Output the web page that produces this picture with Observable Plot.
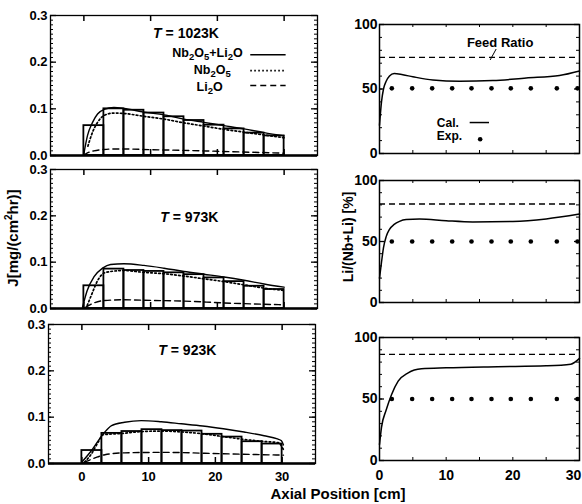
<!DOCTYPE html>
<html><head><meta charset="utf-8">
<script src="https://cdn.jsdelivr.net/npm/d3@7"></script>
<script src="https://cdn.jsdelivr.net/npm/@observablehq/plot@0.6"></script>
<style>
html,body{margin:0;padding:0;background:#fff;}
#chart{position:relative;width:582px;height:504px;overflow:hidden;background:#fff;font-family:"Liberation Sans",Arial,Helvetica,sans-serif;font-weight:bold;color:#000;}
#chart svg{position:absolute;}
.lbl{position:absolute;white-space:nowrap;transform:translate(-50%,-50%);line-height:1;}
.rot{transform:translate(-50%,-50%) rotate(-90deg);}
</style></head>
<body><div id="chart"></div>
<script>
// ---------------- DATA ----------------
// experimental flux bars (histogram, 3 cm bins along axial position)
const binEdges = [0, 3, 6, 9, 12, 15, 18, 21, 24, 27, 30];
const jExp1023 = [0.064, 0.100, 0.097, 0.091, 0.083, 0.075, 0.065, 0.057, 0.048, 0.042];
const jExp973  = [0.049, 0.085, 0.082, 0.080, 0.077, 0.073, 0.066, 0.058, 0.048, 0.041];
const jExp923  = [0.028, 0.065, 0.069, 0.073, 0.071, 0.070, 0.063, 0.057, 0.047, 0.042];

// calculated flux curves, T = 1023K
const tot1023X = [0, 0.55, 1.3, 2.05, 3.05, 4.5, 6, 9, 12, 15, 18, 21, 24, 27, 30];
const tot1023  = [0.004, 0.043, 0.071, 0.089, 0.099, 0.103, 0.101, 0.093, 0.087, 0.078, 0.071, 0.064, 0.057, 0.049, 0.042];
const nb1023X  = [0.6, 1.3, 2.05, 3.05, 4.5, 6, 9, 12, 15, 18, 21, 24, 27, 30];
const nb1023   = [0.02, 0.05, 0.071, 0.086, 0.091, 0.090, 0.084, 0.078, 0.070, 0.063, 0.056, 0.050, 0.044, 0.038];
const li1023X  = [0, 0.6, 1.5, 3, 4.5, 6, 10, 15, 20, 25, 30];
const li1023   = [0.001, 0.006, 0.010, 0.013, 0.014, 0.014, 0.0125, 0.011, 0.009, 0.007, 0.005];

// T = 973K
const tot973X = [-0.2, 0.5, 1.5, 2.8, 4, 6, 9, 12, 15, 18, 21, 24, 27, 30];
const tot973  = [0.003, 0.039, 0.068, 0.087, 0.095, 0.0965, 0.093, 0.087, 0.080, 0.074, 0.068, 0.061, 0.053, 0.046];
const nb973X  = [0.5, 1.3, 2.05, 3.3, 6, 9, 12, 15, 18, 21, 24, 27, 30];
const nb973   = [0.0065, 0.035, 0.060, 0.078, 0.082, 0.078, 0.075, 0.070, 0.064, 0.058, 0.051, 0.044, 0.039];
const li973X  = [0.3, 1.5, 3, 6, 10, 15, 21, 25, 30];
const li973   = [0.003, 0.012, 0.017, 0.0188, 0.0175, 0.0160, 0.012, 0.010, 0.008];

// T = 923K
const tot923X = [0, 1.45, 3.2, 4.45, 6.4, 8.9, 11.9, 14.9, 18.1, 21.2, 24.3, 27.3, 29.3, 29.9, 30.2];
const tot923  = [0.003, 0.028, 0.064, 0.082, 0.089, 0.0925, 0.090, 0.0857, 0.081, 0.075, 0.068, 0.060, 0.053, 0.049, 0.040];
const nb923X  = [0.4, 1.4, 2.4, 3.2, 6.05, 9.05, 12.05, 15.05, 18.2, 21.2, 24.3, 27.3, 29.4, 30.2];
const nb923   = [0.003, 0.02, 0.045, 0.062, 0.065, 0.069, 0.070, 0.068, 0.064, 0.058, 0.052, 0.0475, 0.045, 0.030];
const li923X  = [0.4, 1.95, 3.45, 6.4, 12, 21.2, 30.2];
const li923   = [0.003, 0.012, 0.019, 0.023, 0.024, 0.021, 0.018];

// Li/(Nb+Li) [%]
const cal1023X = [0, 0.3, 0.6, 1, 1.5, 2.2, 3.5, 5, 8, 12, 17, 22, 27, 30];
const cal1023  = [22, 40, 50, 56, 60, 62, 61, 59.5, 57, 56, 56.5, 58.5, 60.5, 64];
const cal973X  = [0, 0.3, 0.6, 1, 1.5, 2.2, 3, 4, 6, 10, 14, 20, 25, 30];
const cal973   = [20, 33, 45, 54, 60, 64, 66.5, 68, 68.5, 67, 66, 66.4, 68.5, 72.5];
const cal923X  = [0, 0.3, 1, 1.8, 2.8, 4.3, 6.3, 10, 17.7, 25, 28.7, 30];
const cal923   = [13, 27, 41, 53.5, 64.5, 71.3, 74.6, 75.4, 76.3, 77, 78.3, 83];
const feedRatio = {1023: 74.5, 973: 80.7, 923: 86.3};
const expX = [1.85, 4.9, 7.9, 10.9, 13.8, 16.8, 19.7, 22.7, 26.6, 29.7];
const exp1023 = [50.5, 50.5, 50.5, 50.5, 50.5, 50.5, 50.5, 50.5, 50.5, 50.5];
const exp973  = [50, 50, 50, 50, 50, 50, 50, 50, 50, 50];
const exp923  = [50, 50, 50, 50, 50, 50, 50, 50, 50, 50];

// ticks / labels
const jTicks = [0, 0.1, 0.2, 0.3];
const jMinor = d3.range(0, 31).map(i => i / 100);
const axialTicks = [0, 10, 20, 30];
const axialMinor = [0, 5, 10, 15, 20, 25, 30];
const pctTicks = [0, 50, 100];
const pctMinor = [0, 10, 20, 30, 40, 50, 60, 70, 80, 90, 100];
const legendLabels = ["Nb2O5+Li2O", "Nb2O5", "Li2O"];

// ---------------- HELPERS ----------------
const series = (xs, vs) => xs.map((x, i) => ({x, v: vs[i]}));
const bars = vals => vals.map((v, i) => ({x1: binEdges[i], x2: binEdges[i + 1], v}));
const FONT = "'Liberation Sans', Arial, Helvetica, sans-serif";
const baseStyle = {background: "transparent", fontFamily: FONT, fontWeight: "bold", fontSize: "14px", color: "#000", overflow: "visible"};
const leftStyle = {...baseStyle, fontSize: "13px"};
const chart = document.getElementById("chart");
function place(el, left, top) { el.style.left = left + "px"; el.style.top = top + "px"; chart.appendChild(el); }
const NS = "http://www.w3.org/2000/svg";
function richText(svg) {
  svg.querySelectorAll("text").forEach(el => {
    const t = el.textContent;
    if (/^(Nb|Li)\d/.test(t)) {
      el.textContent = "";
      let sub = false;
      for (const part of t.split(/(\d)/)) {
        if (!part) continue;
        const isSub = /^\d$/.test(part);
        const ts = document.createElementNS(NS, "tspan");
        ts.textContent = part;
        if (isSub !== sub) { ts.setAttribute("dy", isSub ? "3" : "-3"); sub = isSub; }
        if (isSub) ts.setAttribute("font-size", "9.5");
        el.appendChild(ts);
      }
    } else if (/^T = /.test(t)) {
      el.textContent = "";
      const a = document.createElementNS(NS, "tspan");
      a.textContent = "T"; a.setAttribute("font-style", "italic");
      const b = document.createElementNS(NS, "tspan");
      b.textContent = t.slice(1);
      el.appendChild(a); el.appendChild(b);
    }
  });
}

function leftPanel(o) {
  const W = 267;
  const marks = [
    Plot.rect(bars(o.exp), {x1: "x1", x2: "x2", y1: 0, y2: "v", fill: "none", stroke: "#000", strokeWidth: 1.8}),
    Plot.line(series(o.totX, o.tot), {x: "x", y: "v", curve: "monotone-x", stroke: "#000", strokeWidth: 1.4}),
    Plot.line(series(o.nbX, o.nb), {x: "x", y: "v", curve: "monotone-x", stroke: "#000", strokeWidth: 1.7, strokeDasharray: "1.6,2.4"}),
    Plot.line(series(o.liX, o.li), {x: "x", y: "v", curve: "monotone-x", stroke: "#000", strokeWidth: 1.4, strokeDasharray: "6,4"}),
    Plot.frame({stroke: "#000", strokeWidth: 1.3}),
    Plot.ruleY([0], {stroke: "#000", strokeWidth: 2.4}),
    Plot.tickY(jMinor, {insetRight: W - 3, strokeWidth: 1}),
    Plot.tickY(jMinor, {insetLeft: W - 3, strokeWidth: 1}),
    Plot.tickY(jTicks, {insetRight: W - 6, strokeWidth: 1.3}),
    Plot.tickY(jTicks, {insetLeft: W - 6, strokeWidth: 1.3}),
    Plot.tickX(axialTicks, {insetBottom: o.H - 6, strokeWidth: 1.5}),
    Plot.tickX(axialTicks, {insetTop: o.H - 6, strokeWidth: 1.5}),
    Plot.text([o.title], {x: o.titleX, y: o.titleY, text: d => d, fontSize: 14, fontWeight: "bold"})
  ];
  if (o.legend) {
    marks.push(
      Plot.text(legendLabels, {x: [23.8, 22.0, 20.8], y: [0.2200, 0.184, 0.146], text: d => d, textAnchor: "end", fontSize: 12.5, fontWeight: "bold"}),
      Plot.ruleY([0.216], {x1: 25, x2: 30.3, stroke: "#000", strokeWidth: 1.4}),
      Plot.ruleY([0.182], {x1: 25, x2: 30.3, stroke: "#000", strokeWidth: 1.7, strokeDasharray: "1.6,2.4"}),
      Plot.ruleY([0.150], {x1: 25, x2: 30.3, stroke: "#000", strokeWidth: 1.4, strokeDasharray: "6,4"})
    );
  }
  const svg = Plot.plot({
    width: 325, height: o.mt + o.H + o.mb,
    marginLeft: 50, marginRight: 8, marginTop: o.mt, marginBottom: o.mb,
    x: o.showX ? {domain: [-5, 35], ticks: axialTicks, tickSize: 0, tickPadding: 8, label: null} : {domain: [-5, 35], axis: null},
    y: {domain: [0, 0.3], ticks: jTicks, tickSize: 0, tickPadding: 3, tickFormat: d => d.toFixed(1), label: null},
    style: leftStyle,
    marks
  });
  richText(svg);
  place(svg, o.left, o.top);
}

function rightPanel(o) {
  const W = 200;
  const marks = [
    Plot.ruleY([o.feed], {x1: 0, x2: 30, stroke: "#000", strokeWidth: 1.4, strokeDasharray: "6,4"}),
    Plot.line(series(o.calX, o.cal), {x: "x", y: "v", curve: "monotone-x", stroke: "#000", strokeWidth: 1.5}),
    Plot.dot(series(expX, o.exp), {x: "x", y: "v", r: 2.3, fill: "#000", stroke: "none"}),
    Plot.frame({stroke: "#000", strokeWidth: 1.5}),
    Plot.tickY(pctMinor, {insetRight: W - 3, strokeWidth: 1}),
    Plot.tickY(pctMinor, {insetLeft: W - 3, strokeWidth: 1}),
    Plot.tickY(pctTicks, {insetRight: W - 5, strokeWidth: 1.3}),
    Plot.tickY(pctTicks, {insetLeft: W - 5, strokeWidth: 1.3}),
    Plot.tickX(axialMinor, {insetBottom: o.H - 3, strokeWidth: 1}),
    Plot.tickX(axialMinor, {insetTop: o.H - 3, strokeWidth: 1})
  ];
  if (o.legend) {
    marks.push(
      Plot.text(["Feed Ratio"], {x: 18.1, y: 86, text: d => d, fontSize: 13, fontWeight: "bold"}),
      Plot.link([0], {x1: 17.5, y1: 81, x2: 16.6, y2: 72.5, stroke: "#000", strokeWidth: 1}),
      Plot.text(["Cal.", "Exp."], {x: [8.6, 8.6], y: [23.5, 13.5], text: d => d, textAnchor: "start", fontSize: 12, fontWeight: "bold"}),
      Plot.ruleY([24], {x1: 13.6, x2: 16.5, stroke: "#000", strokeWidth: 1.5}),
      Plot.dot([0], {x: 15.1, y: 11, r: 2.3, fill: "#000", stroke: "none"})
    );
  }
  const svg = Plot.plot({
    width: 242, height: o.mt + o.H + o.mb,
    marginLeft: 39, marginRight: 3, marginTop: o.mt, marginBottom: o.mb,
    x: o.showX ? {domain: [0, 30], ticks: axialTicks, tickSize: 0, tickPadding: 10, label: null} : {domain: [0, 30], axis: null},
    y: {domain: [0, 100], ticks: pctTicks, tickSize: 0, tickPadding: 2, label: null},
    style: baseStyle,
    marks
  });
  if (o.showX) {
    // keep the last axial label ("30") inside the page, as in the reference
    svg.querySelectorAll("text").forEach(el => {
      if (el.textContent === "30") el.setAttribute("dx", "-6");
    });
  }
  place(svg, 340, o.top);
}

// ---------------- PANELS ----------------
leftPanel({top: 0, left: 0, mt: 15, H: 140, mb: 5, exp: jExp1023, totX: tot1023X, tot: tot1023, nbX: nb1023X, nb: nb1023, liX: li1023X, li: li1023,
  title: "T = 1023K", titleX: 15.3, titleY: 0.261, legend: true});
leftPanel({top: 154, left: 0, mt: 15, H: 139, mb: 5, exp: jExp973, totX: tot973X, tot: tot973, nbX: nb973X, nb: nb973, liX: li973X, li: li973,
  title: "T = 973K", titleX: 15.8, titleY: 0.196});
leftPanel({top: 309, left: -2, mt: 15, H: 139, mb: 30, exp: jExp923, totX: tot923X, tot: tot923, nbX: nb923X, nb: nb923, liX: li923X, li: li923,
  title: "T = 923K", titleX: 15.8, titleY: 0.244, showX: true});

rightPanel({top: 0, mt: 24, H: 129, mb: 5, calX: cal1023X, cal: cal1023, exp: exp1023, feed: feedRatio[1023], legend: true});
rightPanel({top: 160, mt: 20, H: 122, mb: 5, calX: cal973X, cal: cal973, exp: exp973, feed: feedRatio[973]});
rightPanel({top: 317, mt: 20, H: 123, mb: 30, calX: cal923X, cal: cal923, exp: exp923, feed: feedRatio[923], showX: true});

// ---------------- AXIS TITLES ----------------
function label(html, x, y, size, rot) {
  const d = document.createElement("div");
  d.className = "lbl" + (rot ? " rot" : "");
  d.style.fontSize = size + "px";
  d.innerHTML = html;
  d.style.left = x + "px"; d.style.top = y + "px";
  chart.appendChild(d);
}
label("J[mg/(cm<sup style=\"font-size:10px\">2</sup>hr)]", 12, 238, 15, true);
label("Li/(Nb+Li) [%]", 348, 237, 14, true);
label("Axial Position [cm]", 338, 493, 15, false);
</script>
</body></html>
